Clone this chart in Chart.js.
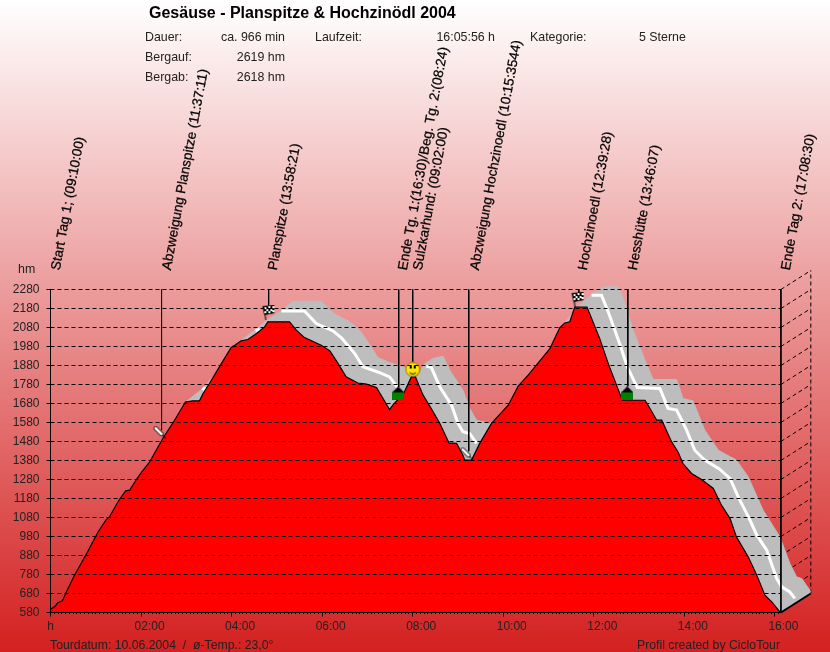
<!DOCTYPE html>
<html>
<head>
<meta charset="utf-8">
<style>html,body{margin:0;padding:0;background:#fff}canvas{display:block}</style>
<script src="https://cdn.jsdelivr.net/npm/chart.js@4"></script>
</head>
<body>
<canvas id="c" width="830" height="652"></canvas>
<script>
const profileHours = [0,0,.09,.16,.26,.35,.53,.80,1.05,1.23,1.30,1.51,1.66,1.75,1.91,2.00,2.19,2.48,2.74,2.98,3.14,3.29,3.37,3.51,3.73,3.99,4.07,4.21,4.36,4.55,4.73,4.80,5.28,5.43,5.61,5.98,6.17,6.33,6.53,6.79,6.98,7.20,7.49,7.56,7.66,7.80,7.97,8.06,8.23,8.41,8.60,8.80,8.97,9.11,9.15,9.30,9.48,9.74,10.11,10.33,10.55,11.03,11.25,11.36,11.47,11.58,11.85,12.13,12.32,12.63,13.13,13.20,13.39,13.50,13.72,13.86,13.97,14.16,14.38,14.64,14.82,15.01,15.15,15.41,15.60,15.78,15.93,16.11];
const profileHm = [580,597,610,631,641,688,776,891,1004,1069,1083,1171,1220,1224,1285,1315,1373,1496,1592,1688,1694,1694,1733,1785,1873,1975,1987,2010,2017,2048,2083,2110,2110,2066,2027,1987,1957,1899,1820,1788,1782,1764,1648,1671,1697,1733,1820,1820,1724,1654,1575,1473,1470,1408,1382,1382,1470,1575,1671,1771,1829,1969,2080,2104,2110,2188,2188,2022,1890,1697,1697,1671,1592,1592,1478,1425,1364,1312,1280,1233,1145,1075,978,873,776,671,636,583];

const bandHours = [.64,2.81,3.01,3.12,3.37,3.45,3.62,4.00,4.21,4.57,4.75,5.06,5.35,5.98,6.17,6.32,6.61,6.83,7.01,7.23,7.45,7.82,7.97,8.09,8.27,8.45,8.67,8.82,9.11,9.26,9.41,9.70,10.36,10.98,11.29,11.38,11.76,12.02,12.24,12.54,12.69,12.87,13.13,13.31,13.83,13.97,14.19,14.45,14.75,15.15,15.41,15.74,16.11,16.33,16.48,16.59,16.793];
const bandHm = [580,1592,1692,1713,1760,1782,1829,1974,2013,2076,2113,2162,2218,2218,2171,2145,2110,2066,2004,1922,1899,1870,1818,1818,1890,1917,1929,1855,1750,1654,1592,1575,1697,1934,2076,2113,2215,2267,2294,2294,2206,2066,1908,1806,1806,1706,1694,1540,1434,1382,1294,1118,978,838,767,759,690];

const trackHours = [3.36,3.41,null,4.53,4.62,null,5.10,5.61,5.87,6.24,6.42,6.72,6.90,7.23,7.49,7.68,null,8.30,8.41,8.60,8.86,9.00,9.11,9.26,9.41,null,11.95,12.17,12.32,12.57,12.74,12.96,13.46,13.64,13.83,14.05,14.23,14.45,14.78,15.01,15.19,15.45,15.60,15.82,16.04,16.15,16.33,16.44];
const trackHm = [1750,1766,null,2063,2071,null,2167,2167,2101,2062,2027,1943,1873,1846,1820,1759,null,1876,1870,1767,1671,1575,1531,1522,1470,null,2250,2250,2162,1996,1873,1764,1759,1654,1645,1540,1434,1382,1334,1285,1188,1066,987,908,759,715,688,654];

const waypointLabels = ['Start Tag 1; (09:10:00)','Abzweigung Planspitze (11:37:11)','Planspitze (13:58:21)','Ende Tg. 1:(16:30)/Beg. Tg. 2:(08:24)','Sulzkarhund: (09:02:00)','Abzweigung Hochzinoedl (10:15:3544)','Hochzinoedl (12:39:28)','Hessh\u00fctte (13:46:07)','Ende Tag 2: (17:08:30)'];
const waypointHours = [0,2.453,4.818,7.691,8.0,9.238,11.669,12.751,16.133];
const waypointEndHm = [580,1540,2197,1766,1898,1429,2260,1771,580];

const markerKinds = ['pin','flag','house','smiley','pin','flag','house'];
const markerHours = [2.41,4.80,7.68,8.00,9.19,11.63,12.74];
const markerHm = [1529,2158,1733,1859,1417,2227,1733];

const yTickValues = [580,680,780,880,980,1080,1180,1280,1380,1480,1580,1680,1780,1880,1980,2080,2180,2280];
const xTickValues = [0,2,4,6,8,10,12,14,16];
const xTickLabels = [' h','02:00','04:00','06:00','08:00','10:00','12:00','14:00','16:00'];

const chartTitle = 'Ges\u00e4use - Planspitze & Hochzin\u00f6dl 2004';
const summaryLabels = ['Dauer:','Bergauf:','Bergab:','Laufzeit:','Kategorie:'];
const summaryValues = ['ca. 966 min','2619 hm','2618 hm','16:05:56 h','5 Sterne'];
const yUnit = 'hm';
const footerLeft = 'Tourdatum: 10.06.2004  /  \u00f8-Temp.: 23,0\u00b0';
const footerRight = 'Profil created by CicloTour';

const xEnd = 16.133, depthHours = 0.66, depthHm = 100, FONT = '"Liberation Sans", Arial, sans-serif';

function icon(w, h, draw) {
  const cv = document.createElement('canvas');
  cv.width = w; cv.height = h;
  draw(cv.getContext('2d'));
  return cv;
}
const icons = {
  pin: icon(14, 14, g => {
    g.lineCap = 'round';
    g.strokeStyle = '#000'; g.lineWidth = 4;
    g.beginPath(); g.moveTo(3, 3); g.lineTo(9, 9); g.stroke();
    g.strokeStyle = '#fff'; g.lineWidth = 2.5;
    g.beginPath(); g.moveTo(3, 3); g.lineTo(9, 9); g.stroke();
    g.strokeStyle = '#000'; g.lineWidth = 1;
    g.beginPath(); g.moveTo(10, 10); g.lineTo(13, 13); g.stroke();
  }),
  flag: icon(15, 15, g => {
    g.strokeStyle = '#000'; g.lineWidth = 1;
    g.beginPath(); g.moveTo(3.5, 2); g.lineTo(5.5, 15); g.stroke();
    g.fillStyle = '#000';
    g.beginPath(); g.moveTo(2, 1); g.lineTo(14, 0); g.lineTo(14, 8); g.lineTo(4, 10); g.closePath(); g.fill();
    g.fillStyle = '#fff';
    [[4,2],[8,1],[12,1],[6,4],[10,4],[4,6],[8,6],[12,5]].forEach(p => g.fillRect(p[0], p[1], 2, 2));
  }),
  house: icon(12, 14, g => {
    g.fillStyle = '#000';
    g.beginPath(); g.moveTo(6, 0); g.lineTo(12, 6); g.lineTo(0, 6); g.closePath(); g.fill();
    g.fillStyle = '#008000';
    g.fillRect(0, 6, 12, 8);
  }),
  smiley: icon(16, 16, g => {
    g.fillStyle = '#ffe400'; g.strokeStyle = '#8a7a00'; g.lineWidth = 1;
    g.beginPath(); g.arc(8, 8, 7, 0, Math.PI * 2); g.fill(); g.stroke();
    g.fillStyle = '#000';
    g.fillRect(5, 4, 2, 3); g.fillRect(9, 4, 2, 3);
    g.strokeStyle = '#000';
    g.beginPath(); g.arc(8, 8, 4.5, 0.25 * Math.PI, 0.75 * Math.PI); g.stroke();
  })
};

const zip = (xs, ys) => xs.map((x, i) => ({x: x, y: ys[i]}));

const waypointLines = [];
waypointHours.forEach((h, i) => {
  waypointLines.push({x: h, y: 2280}, {x: h, y: waypointEndHm[i]}, {x: h, y: null});
});
const depthLines = [];
const gridLines = [];
yTickValues.forEach(v => {
  depthLines.push({x: xEnd, y: v}, {x: xEnd + depthHours, y: v + depthHm}, {x: xEnd, y: null});
  gridLines.push({x: 0, y: v}, {x: xEnd, y: v}, {x: 0, y: null});
});

const paintBackground = {
  id: 'paintBackground',
  beforeDraw(chart) {
    const c = chart.ctx, g = c.createLinearGradient(0, 0, 0, chart.height);
    g.addColorStop(0, '#ffffff');
    g.addColorStop(1, '#d42020');
    c.save(); c.fillStyle = g; c.fillRect(0, 0, chart.width, chart.height); c.restore();
  }
};

const paintText = {
  id: 'paintText',
  afterDraw(chart) {
    const c = chart.ctx;
    c.save();
    c.fillStyle = '#000';
    c.textBaseline = 'middle';
    c.textAlign = 'left';
    c.font = 'bold 16px ' + FONT;
    c.fillText(chartTitle, 149, 14);
    c.font = '12.4px ' + FONT;
    c.fillStyle = '#222';
    c.fillText(summaryLabels[0], 145, 37.5);
    c.fillText(summaryLabels[1], 145, 57.5);
    c.fillText(summaryLabels[2], 145, 77.5);
    c.fillText(summaryLabels[3], 315, 37.5);
    c.fillText(summaryLabels[4], 530, 37.5);
    c.fillText(summaryValues[4], 639, 37.5);
    c.fillText(yUnit, 18, 270);
    c.textAlign = 'right';
    c.fillText(summaryValues[0], 285, 37.5);
    c.fillText(summaryValues[1], 285, 57.5);
    c.fillText(summaryValues[2], 285, 77.5);
    c.fillText(summaryValues[3], 495, 37.5);
    c.textAlign = 'left';
    c.font = '12.25px ' + FONT;
    c.fillText(footerLeft, 50, 646);
    c.fillText(footerRight, 637, 646);
    c.fillStyle = '#000';
    c.strokeStyle = '#000';
    c.lineWidth = 0.25;
    c.font = '13.6px ' + FONT;
    const anchors = [56, 167, 273, 403, 418, 475, 583, 633, 786];
    waypointLabels.forEach((t, i) => {
      c.save();
      c.translate(anchors[i], 270);
      c.rotate(-79.5 * Math.PI / 180);
      c.fillText(t, 0, 0);
      c.strokeText(t, 0, 0);
      c.restore();
    });
    c.restore();
  }
};

const datasets = [
  { label: 'Gitter', data: gridLines, order: -1, borderColor: '#000', borderWidth: 1, borderDash: [4, 3],
    pointRadius: 0, spanGaps: false, fill: false },
  { label: 'Wegpunkte', data: zip(markerHours, markerHm), showLine: false, order: 0, clip: false,
    pointStyle: markerKinds.map(k => icons[k]), pointRadius: 7 },
  { label: 'Wegpunkt-Linien', data: waypointLines, order: 1, clip: false, borderColor: '#000', borderWidth: 1,
    pointRadius: 0, spanGaps: false, fill: false },
  { label: 'Achse', data: [{x: 0, y: 580}, {x: xEnd, y: 580}], order: 1, clip: false, borderColor: '#000', borderWidth: 1,
    pointRadius: 0, fill: false },
  { label: 'Höhenprofil', data: zip(profileHours, profileHm), order: 2, borderColor: '#000', borderWidth: 1.2,
    backgroundColor: '#ff0000', fill: 'start', pointRadius: 0, tension: 0 },
  { label: 'Spur', data: zip(trackHours, trackHm), order: 3, clip: false, borderColor: '#ffffff', borderWidth: 3,
    pointRadius: 0, spanGaps: false, fill: false, tension: 0 },
  { label: 'Band', data: zip(bandHours, bandHm), order: 4, clip: false, borderColor: '#bdbdbd', borderWidth: 1,
    backgroundColor: '#bdbdbd', fill: 7, pointRadius: 0, tension: 0 },
  { label: 'Bandboden', data: [{x: 0, y: 580}, {x: xEnd, y: 580}, {x: xEnd + depthHours, y: 680}], order: 5, clip: false,
    borderColor: 'rgba(0,0,0,0)', borderWidth: 0, pointRadius: 0, fill: false, tension: 0 },
  { label: 'Tiefe', data: depthLines, order: 5, clip: false, borderColor: '#000', borderWidth: 1, borderDash: [4, 3],
    pointRadius: 0, spanGaps: false, fill: false },
  { label: 'Rückwand', data: [{x: xEnd + depthHours, y: 680}, {x: xEnd + depthHours, y: 2380}], order: 5, clip: false,
    borderColor: '#000', borderWidth: 1, borderDash: [4, 3], pointRadius: 0, fill: false },
  { label: 'Boden', data: [{x: xEnd, y: 580}, {x: xEnd + depthHours, y: 680}], order: 1, clip: false,
    borderColor: '#000', borderWidth: 2, pointRadius: 0, fill: false }
];

new Chart(document.getElementById('c'), {
  type: 'line',
  plugins: [paintBackground, paintText],
  data: { datasets: datasets },
  options: {
    responsive: false,
    animation: false,
    layout: { padding: { left: 0, right: 19.2, top: 270.5, bottom: 0 } },
    plugins: { legend: { display: false }, title: { display: false }, tooltip: { enabled: false } },
    scales: {
      x: {
        type: 'linear', weight: 1, min: 0, max: xEnd + depthHours,
        afterBuildTicks: s => { s.ticks = xTickValues.map(v => ({value: v})); },
        afterFit: s => { s.height = 39.5; },
        border: { display: false },
        grid: { drawOnChartArea: false, drawTicks: true, tickLength: 4, tickColor: '#000', tickWidth: 1 },
        ticks: {
          autoSkip: false, maxRotation: 0, align: 'start', labelOffset: -6.5, padding: 3, color: '#222',
          font: { family: FONT, size: 12 },
          callback: (v, i) => xTickLabels[i]
        }
      },
      xMinor: {
        type: 'linear', position: 'bottom', weight: 0, min: 0, max: xEnd + depthHours,
        afterBuildTicks: s => {
          const t = [];
          for (let i = 0; i / 12 <= xEnd; i++) t.push({value: i / 12});
          s.ticks = t;
        },
        afterFit: s => { s.height = 0; },
        border: { display: false },
        grid: { drawOnChartArea: false, drawTicks: true, tickLength: 1.5, tickColor: '#000', tickWidth: 1 },
        ticks: { display: false, autoSkip: false }
      },
      y: {
        type: 'linear', min: 580, max: 2380,
        afterBuildTicks: s => { s.ticks = yTickValues.map(v => ({value: v})); },
        afterFit: s => { s.width = 50.5; },
        border: { display: false },
        grid: { drawOnChartArea: false, tickColor: '#000', tickLength: 4, drawTicks: true },
        ticks: { autoSkip: false, padding: 7, color: '#222', font: { family: FONT, size: 12 }, callback: v => String(v) }
      }
    }
  }
});
</script>
</body>
</html>
